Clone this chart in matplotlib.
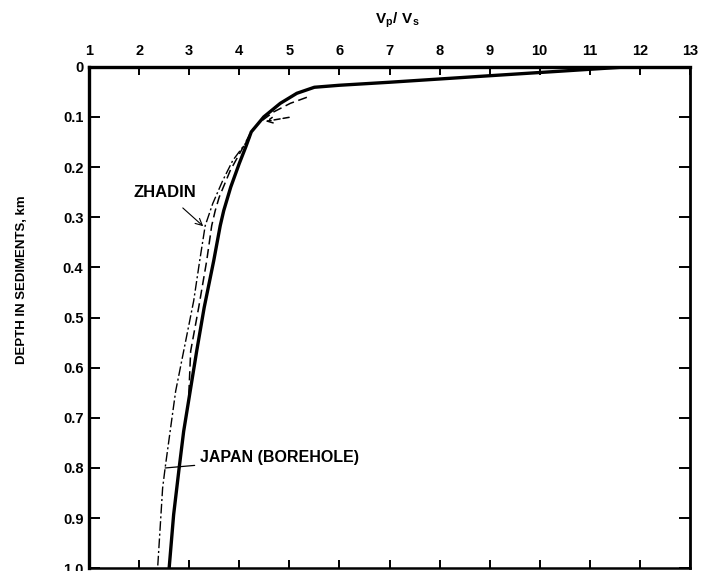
import matplotlib.pyplot as plt

plt.rcParams['font.family'] = ['Liberation Sans', 'DejaVu Sans']
plt.rcParams['font.weight'] = 'bold'
plt.rcParams['mathtext.fontset'] = 'custom'
plt.rcParams['mathtext.bf'] = 'Liberation Sans:bold'
plt.rcParams['mathtext.rm'] = 'Liberation Sans:bold'

# Vp/Vs against depth (km) for the three curves
model_depth = [0.0, 0.0, 0.009, 0.018, 0.031, 0.037, 0.041, 0.053, 0.073,
               0.10, 0.13, 0.16, 0.193, 0.24, 0.287, 0.317, 0.387, 0.48, 0.567,
               0.647, 0.727, 0.80, 0.893, 1.0]
model_vpvs = [13.0, 11.8, 10.4, 9.0, 7.0, 6.0, 5.5, 5.15, 4.82,
              4.49, 4.24, 4.13, 4.0, 3.83, 3.69, 3.62, 3.49, 3.30, 3.15,
              3.02, 2.89, 2.80, 2.69, 2.60]

zhadin_depth = [0.061, 0.073, 0.09, 0.11, 0.127, 0.16, 0.207, 0.26, 0.287, 0.317,
                0.387, 0.48, 0.567, 0.66]
zhadin_vpvs = [5.35, 5.02, 4.69, 4.42, 4.25, 4.08, 3.82, 3.60, 3.52, 3.45,
               3.35, 3.19, 3.03, 2.99]

borehole_depth = [0.14, 0.187, 0.227, 0.273, 0.317, 0.387, 0.467, 0.567, 0.647,
                  0.727, 0.80, 0.84, 0.92, 1.0]
borehole_vpvs = [4.22, 3.87, 3.67, 3.47, 3.32, 3.21, 3.09, 2.89, 2.73,
                 2.62, 2.52, 2.47, 2.42, 2.37]

x_ticks = list(range(1, 14))
y_ticks = [0.0, 0.1, 0.2, 0.3, 0.4, 0.5, 0.6, 0.7, 0.8, 0.9, 1.0]
y_labels = ['0', '0.1', '0.2', '0.3', '0.4', '0.5', '0.6', '0.7', '0.8', '0.9', '1.0']

fig = plt.figure(figsize=(7.08, 5.71), dpi=100)
ax = fig.add_axes([89 / 708, 1 - 568.3 / 571, (690 - 89) / 708, (568.3 - 66.7) / 571])

ax.plot(model_vpvs, model_depth, color='black', lw=2.4, solid_joinstyle='round')
ax.plot(zhadin_vpvs, zhadin_depth, color='black', lw=1.1, dashes=(6, 3))
ax.plot(borehole_vpvs, borehole_depth, color='black', lw=1.0, dashes=(7, 2, 1.5, 2))

# dashed pointer onto the knee of the curves
ax.annotate('', xy=(4.47, 0.11), xytext=(5.05, 0.10),
            arrowprops=dict(arrowstyle='->', color='black', lw=1.1, linestyle=(0, (4, 2))))

ax.annotate('ZHADIN', xy=(3.28, 0.318), xytext=(2.52, 0.25),
            fontsize=12, fontweight='bold', ha='center', va='center',
            arrowprops=dict(arrowstyle='->', color='black', lw=0.8,
                            shrinkA=6, shrinkB=0))
ax.annotate('JAPAN (BOREHOLE)', xy=(2.52, 0.80), xytext=(3.22, 0.78),
            fontsize=11.5, fontweight='bold', ha='left', va='center',
            arrowprops=dict(arrowstyle='-', color='black', lw=0.9,
                            shrinkA=2, shrinkB=0))

ax.set_xlim(1, 13)
ax.set_ylim(1.0, 0.0)
ax.set_xticks(x_ticks)
ax.set_xticklabels([str(v) for v in x_ticks])
ax.set_yticks(y_ticks)
ax.set_yticklabels(y_labels)

ax.tick_params(axis='x', direction='in', top=True, bottom=True, labeltop=True,
               labelbottom=False, length=6, width=1.4, pad=6, labelsize=10.5)
ax.tick_params(axis='y', direction='in', left=True, right=True, length=8,
               width=1.4, pad=4, labelsize=10.5)
for lab in ax.get_xticklabels() + ax.get_yticklabels():
    lab.set_fontweight('bold')

ax.spines['left'].set_linewidth(2.4)
ax.spines['top'].set_linewidth(2.4)
ax.spines['right'].set_linewidth(2.0)
ax.spines['bottom'].set_linewidth(1.8)

fig.text(397 / 708, 1 - 20 / 571, r'$\mathbf{V_{p}/\ V_{s}}$', fontsize=11,
         ha='center', va='center')
fig.text(22 / 708, 1 - 280 / 571, 'DEPTH IN SEDIMENTS, km', rotation=90,
         fontsize=9.5, fontweight='bold', ha='center', va='center')

fig.savefig('out.png', dpi=100)
